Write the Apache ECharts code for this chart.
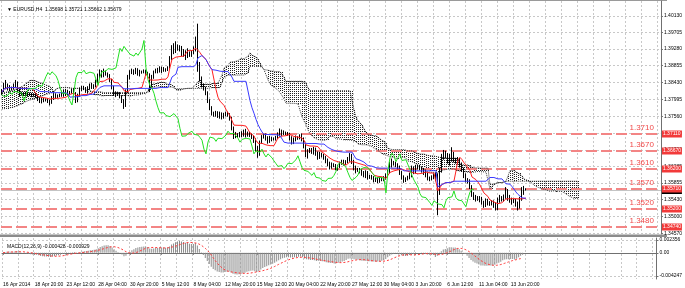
<!DOCTYPE html>
<html><head><meta charset="utf-8">
<script src="https://cdn.jsdelivr.net/npm/echarts@6/dist/echarts.min.js"></script>
<style>html,body{margin:0;padding:0;background:#fff}#c{width:685px;height:288px}</style>
</head><body><div id="c"></div>
<script>
// H4 bars [open, close, low, high], 16 Apr 2014 04:00 .. 16 Jun 2014 20:00
const ohlc = [
[1.3815,1.3822,1.3810,1.3826],[1.3822,1.3838,1.3818,1.3842],[1.3838,1.3830,1.3825,1.3849],[1.3830,1.3833,1.3822,1.3840],[1.3833,1.3825,1.3820,1.3836],
[1.3825,1.3828,1.3822,1.3832],[1.3828,1.3835,1.3824,1.3840],[1.3835,1.3842,1.3830,1.3849],[1.3842,1.3822,1.3817,1.3845],[1.3822,1.3812,1.3806,1.3826],[1.3812,1.3815,1.3809,1.3819],
[1.3815,1.3812,1.3808,1.3818],[1.3812,1.3815,1.3807,1.3819],[1.3815,1.3811,1.3806,1.3818],[1.3811,1.3813,1.3808,1.3817],[1.3813,1.3810,1.3805,1.3816],[1.3810,1.3812,1.3806,1.3815],
[1.3812,1.3808,1.3803,1.3816],[1.3808,1.3800,1.3795,1.3812],[1.3800,1.3795,1.3790,1.3805],[1.3795,1.3800,1.3789,1.3804],[1.3800,1.3797,1.3792,1.3803],[1.3797,1.3799,1.3794,1.3802],
[1.3799,1.3795,1.3790,1.3803],[1.3795,1.3790,1.3784,1.3799],[1.3790,1.3803,1.3788,1.3808],[1.3803,1.3812,1.3798,1.3820],[1.3812,1.3806,1.3800,1.3815],[1.3806,1.3808,1.3803,1.3812],
[1.3808,1.3810,1.3805,1.3814],[1.3810,1.3818,1.3806,1.3822],[1.3818,1.3812,1.3806,1.3825],[1.3812,1.3820,1.3808,1.3826],[1.3820,1.3815,1.3810,1.3824],[1.3815,1.3818,1.3812,1.3821],
[1.3818,1.3822,1.3814,1.3826],[1.3822,1.3815,1.3810,1.3828],[1.3815,1.3795,1.3790,1.3818],[1.3795,1.3810,1.3792,1.3814],[1.3810,1.3825,1.3806,1.3830],[1.3825,1.3830,1.3820,1.3834],
[1.3830,1.3827,1.3823,1.3834],[1.3827,1.3822,1.3816,1.3831],[1.3822,1.3828,1.3814,1.3833],[1.3828,1.3835,1.3824,1.3840],[1.3835,1.3830,1.3826,1.3842],[1.3830,1.3833,1.3826,1.3838],
[1.3833,1.3845,1.3830,1.3850],[1.3845,1.3858,1.3840,1.3865],[1.3858,1.3868,1.3852,1.3876],[1.3868,1.3862,1.3855,1.3874],[1.3862,1.3870,1.3856,1.3878],[1.3870,1.3865,1.3860,1.3873],
[1.3865,1.3860,1.3855,1.3868],[1.3860,1.3848,1.3844,1.3864],[1.3848,1.3830,1.3825,1.3852],[1.3830,1.3815,1.3808,1.3834],[1.3815,1.3812,1.3805,1.3820],[1.3812,1.3815,1.3808,1.3819],
[1.3815,1.3808,1.3802,1.3818],[1.3808,1.3795,1.3790,1.3810],[1.3795,1.3785,1.3775,1.3800],[1.3785,1.3820,1.3780,1.3825],[1.3820,1.3855,1.3815,1.3862],[1.3855,1.3868,1.3850,1.3874],
[1.3868,1.3872,1.3864,1.3878],[1.3872,1.3868,1.3862,1.3876],[1.3868,1.3874,1.3864,1.3880],[1.3874,1.3865,1.3860,1.3879],[1.3865,1.3870,1.3858,1.3875],[1.3870,1.3869,1.3865,1.3873],
[1.3869,1.3872,1.3866,1.3876],[1.3872,1.3866,1.3860,1.3875],[1.3866,1.3862,1.3856,1.3870],[1.3862,1.3835,1.3818,1.3866],[1.3835,1.3858,1.3830,1.3862],[1.3858,1.3870,1.3852,1.3873],
[1.3870,1.3874,1.3866,1.3878],[1.3874,1.3872,1.3866,1.3880],[1.3872,1.3878,1.3868,1.3884],[1.3878,1.3873,1.3867,1.3883],[1.3873,1.3876,1.3870,1.3882],[1.3876,1.3874,1.3870,1.3879],
[1.3874,1.3880,1.3872,1.3884],[1.3880,1.3905,1.3878,1.3910],[1.3905,1.3930,1.3900,1.3938],[1.3930,1.3922,1.3915,1.3943],[1.3922,1.3935,1.3918,1.3948],[1.3935,1.3928,1.3924,1.3940],
[1.3928,1.3932,1.3922,1.3938],[1.3932,1.3915,1.3910,1.3936],[1.3915,1.3920,1.3908,1.3928],[1.3920,1.3910,1.3900,1.3925],[1.3910,1.3918,1.3905,1.3930],[1.3918,1.3912,1.3908,1.3922],
[1.3912,1.3920,1.3908,1.3925],[1.3920,1.3928,1.3915,1.3935],[1.3928,1.3950,1.3922,1.3960],[1.3950,1.3880,1.3870,1.3993],[1.3880,1.3850,1.3845,1.3895],[1.3850,1.3835,1.3830,1.3858],
[1.3835,1.3828,1.3822,1.3840],[1.3828,1.3815,1.3810,1.3832],[1.3815,1.3795,1.3790,1.3820],[1.3795,1.3778,1.3772,1.3800],[1.3778,1.3765,1.3758,1.3782],[1.3765,1.3760,1.3755,1.3768],
[1.3760,1.3765,1.3755,1.3770],[1.3765,1.3758,1.3752,1.3769],[1.3758,1.3762,1.3750,1.3768],[1.3762,1.3755,1.3748,1.3766],[1.3755,1.3760,1.3750,1.3765],[1.3760,1.3763,1.3756,1.3768],
[1.3763,1.3760,1.3755,1.3768],[1.3760,1.3750,1.3745,1.3764],[1.3750,1.3725,1.3720,1.3755],[1.3725,1.3705,1.3698,1.3730],[1.3705,1.3710,1.3700,1.3716],[1.3710,1.3706,1.3701,1.3713],
[1.3706,1.3712,1.3702,1.3716],[1.3712,1.3708,1.3703,1.3718],[1.3708,1.3718,1.3704,1.3722],[1.3718,1.3710,1.3702,1.3724],[1.3710,1.3713,1.3704,1.3717],[1.3713,1.3708,1.3703,1.3716],
[1.3708,1.3702,1.3698,1.3712],[1.3702,1.3695,1.3688,1.3706],[1.3695,1.3672,1.3665,1.3700],[1.3672,1.3660,1.3650,1.3680],[1.3660,1.3690,1.3655,1.3694],[1.3690,1.3703,1.3686,1.3708],
[1.3703,1.3706,1.3699,1.3710],[1.3706,1.3700,1.3694,1.3712],[1.3700,1.3692,1.3686,1.3705],[1.3692,1.3700,1.3688,1.3706],[1.3700,1.3697,1.3692,1.3704],[1.3697,1.3699,1.3694,1.3702],
[1.3699,1.3702,1.3694,1.3706],[1.3702,1.3708,1.3698,1.3715],[1.3708,1.3718,1.3704,1.3725],[1.3718,1.3712,1.3706,1.3722],[1.3712,1.3715,1.3708,1.3720],[1.3715,1.3712,1.3708,1.3717],
[1.3712,1.3710,1.3706,1.3716],[1.3710,1.3700,1.3694,1.3714],[1.3700,1.3690,1.3684,1.3705],[1.3690,1.3697,1.3685,1.3702],[1.3697,1.3702,1.3692,1.3707],[1.3702,1.3700,1.3696,1.3705],
[1.3700,1.3703,1.3697,1.3710],[1.3703,1.3698,1.3692,1.3712],[1.3698,1.3680,1.3674,1.3702],[1.3680,1.3660,1.3652,1.3685],[1.3660,1.3668,1.3648,1.3672],[1.3668,1.3670,1.3662,1.3675],
[1.3670,1.3664,1.3660,1.3675],[1.3664,1.3672,1.3658,1.3678],[1.3672,1.3660,1.3655,1.3676],[1.3660,1.3652,1.3645,1.3666],[1.3652,1.3660,1.3647,1.3665],[1.3660,1.3656,1.3651,1.3663],
[1.3656,1.3650,1.3645,1.3660],[1.3650,1.3642,1.3636,1.3655],[1.3642,1.3635,1.3628,1.3648],[1.3635,1.3628,1.3620,1.3640],[1.3628,1.3633,1.3622,1.3638],[1.3633,1.3630,1.3626,1.3636],
[1.3630,1.3622,1.3618,1.3634],[1.3622,1.3628,1.3617,1.3632],[1.3628,1.3636,1.3624,1.3640],[1.3636,1.3640,1.3632,1.3645],[1.3640,1.3635,1.3630,1.3645],[1.3635,1.3640,1.3632,1.3644],
[1.3640,1.3645,1.3636,1.3652],[1.3645,1.3655,1.3640,1.3662],[1.3655,1.3640,1.3634,1.3660],[1.3640,1.3625,1.3618,1.3645],[1.3625,1.3618,1.3610,1.3630],[1.3618,1.3620,1.3614,1.3624],
[1.3620,1.3615,1.3610,1.3624],[1.3615,1.3610,1.3604,1.3620],[1.3610,1.3605,1.3600,1.3616],[1.3605,1.3612,1.3598,1.3618],[1.3612,1.3600,1.3594,1.3616],[1.3600,1.3602,1.3596,1.3606],
[1.3602,1.3598,1.3594,1.3606],[1.3598,1.3592,1.3587,1.3603],[1.3592,1.3596,1.3588,1.3601],[1.3596,1.3590,1.3585,1.3600],[1.3590,1.3597,1.3586,1.3603],[1.3597,1.3595,1.3590,1.3600],
[1.3595,1.3598,1.3590,1.3603],[1.3598,1.3605,1.3594,1.3610],[1.3605,1.3615,1.3600,1.3620],[1.3615,1.3632,1.3610,1.3640],[1.3632,1.3638,1.3625,1.3648],[1.3638,1.3636,1.3630,1.3642],
[1.3636,1.3632,1.3626,1.3640],[1.3632,1.3625,1.3620,1.3636],[1.3625,1.3612,1.3606,1.3630],[1.3612,1.3600,1.3594,1.3616],[1.3600,1.3592,1.3586,1.3605],[1.3592,1.3596,1.3588,1.3600],
[1.3596,1.3600,1.3592,1.3604],[1.3600,1.3606,1.3595,1.3612],[1.3606,1.3620,1.3600,1.3630],[1.3620,1.3615,1.3608,1.3628],[1.3615,1.3625,1.3610,1.3632],[1.3625,1.3627,1.3620,1.3632],
[1.3627,1.3624,1.3618,1.3632],[1.3624,1.3618,1.3612,1.3628],[1.3618,1.3612,1.3606,1.3624],[1.3612,1.3606,1.3600,1.3620],[1.3606,1.3598,1.3592,1.3612],[1.3598,1.3596,1.3590,1.3602],
[1.3596,1.3600,1.3592,1.3605],[1.3600,1.3605,1.3595,1.3610],[1.3605,1.3598,1.3590,1.3612],[1.3598,1.3560,1.3503,1.3610],[1.3560,1.3618,1.3555,1.3625],[1.3618,1.3650,1.3612,1.3660],
[1.3650,1.3662,1.3645,1.3670],[1.3662,1.3655,1.3648,1.3668],[1.3655,1.3640,1.3635,1.3662],[1.3640,1.3650,1.3630,1.3660],[1.3650,1.3660,1.3640,1.3677],[1.3660,1.3643,1.3638,1.3665],
[1.3643,1.3640,1.3635,1.3650],[1.3640,1.3645,1.3633,1.3652],[1.3645,1.3632,1.3625,1.3650],[1.3632,1.3620,1.3614,1.3638],[1.3620,1.3605,1.3598,1.3625],[1.3605,1.3593,1.3587,1.3610],
[1.3593,1.3590,1.3584,1.3598],[1.3590,1.3575,1.3570,1.3595],[1.3575,1.3558,1.3550,1.3580],[1.3558,1.3550,1.3542,1.3562],[1.3550,1.3545,1.3538,1.3555],[1.3545,1.3548,1.3540,1.3552],
[1.3548,1.3543,1.3536,1.3552],[1.3543,1.3535,1.3530,1.3550],[1.3535,1.3528,1.3522,1.3540],[1.3528,1.3540,1.3524,1.3546],[1.3540,1.3535,1.3528,1.3545],[1.3535,1.3532,1.3527,1.3539],
[1.3532,1.3536,1.3528,1.3542],[1.3536,1.3530,1.3522,1.3541],[1.3530,1.3522,1.3515,1.3536],[1.3522,1.3540,1.3516,1.3548],[1.3540,1.3548,1.3535,1.3555],[1.3548,1.3543,1.3538,1.3552],
[1.3543,1.3550,1.3538,1.3556],[1.3550,1.3565,1.3545,1.3575],[1.3565,1.3548,1.3540,1.3570],[1.3548,1.3542,1.3535,1.3555],[1.3542,1.3538,1.3530,1.3548],[1.3538,1.3540,1.3534,1.3545],
[1.3540,1.3532,1.3525,1.3545],[1.3532,1.3525,1.3515,1.3538],[1.3525,1.3545,1.3520,1.3550],[1.3545,1.3562,1.3540,1.3575],[1.3562,1.3570,1.3555,1.3578],[1.35698,1.35679,1.35662,1.35721]
];
// cloud edges for the first 26 visible bars (projected from history before the window)
const preSpanA = [1.3816,1.3816,1.3818,1.3818,1.3820,1.3822,1.3824,1.3826,1.3828,1.3830,1.3832,1.3836,1.3840,1.3845,1.3848,1.3848,1.3848,1.3846,1.3844,1.3842,1.3840,1.3838,1.3836,1.3834,1.3832,1.3830];
const preSpanB = [1.3775,1.3775,1.3776,1.3776,1.3778,1.3778,1.3780,1.3782,1.3784,1.3786,1.3788,1.3790,1.3794,1.3797,1.3798,1.3800,1.3800,1.3802,1.3804,1.3806,1.3808,1.3810,1.3812,1.3814,1.3815,1.3816];
const totalSlots = 330;
const xTickLabels = ['16 Apr 2014','18 Apr 20:00','23 Apr 12:00','28 Apr 04:00','30 Apr 20:00','5 May 12:00','8 May 04:00','12 May 20:00','15 May 12:00','20 May 04:00','22 May 20:00','27 May 12:00','30 May 04:00','3 Jun 20:00','6 Jun 12:00','11 Jun 04:00','13 Jun 20:00'];
const yTickValues = [1.40130,1.39705,1.39280,1.38855,1.38430,1.37995,1.37560,1.37130,1.36700,1.36285,1.35855,1.35430,1.35000,1.34570];
const levelValues = [1.3711,1.3667,1.3620,1.3571,1.3520,1.3474];
const levelTexts = ['1.3710','1.3670','1.3610','1.3570','1.3520','1.3480'];
const levelTags = ['1.37110','1.36670','1.36200','1.35710','1.35200','1.34740'];
const bidPrice = 1.35679;
const bidTag = '1.35679';
const macdTickValues = [0.002356, 0, -0.004247];
const titleText = '\u25BC EURUSD,H4  1.35698 1.35721 1.35662 1.35679';
const macdText = 'MACD(12,26,9) -0.000428 -0.000929';

// ---- indicator lines derived from the bars (Ichimoku 9/26/52, MACD 12/26/9) ----
const N = ohlc.length;
const C = ohlc.map(r => r[1]), L = ohlc.map(r => r[2]), H = ohlc.map(r => r[3]);
function mid(i, n) { let hi = -Infinity, lo = Infinity; for (let k = Math.max(0, i - n + 1); k <= i; k++) { hi = Math.max(hi, H[k]); lo = Math.min(lo, L[k]); } return (hi + lo) / 2; }
const tenkan = [], kijun = [], chikou = new Array(N).fill(null);
const spanA = new Array(N + 26).fill(null), spanB = new Array(N + 26).fill(null);
for (let j = 0; j < 26; j++) { spanA[j] = preSpanA[j]; spanB[j] = preSpanB[j]; }
for (let i = 0; i < N; i++) {
  tenkan[i] = mid(i, 9); kijun[i] = mid(i, 26);
  spanA[i + 26] = (tenkan[i] + kijun[i]) / 2; spanB[i + 26] = mid(i, 52);
  if (i >= 26) chikou[i - 26] = C[i];
}
const cloud = [];
for (let j = 0; j < spanA.length; j++) if (spanA[j] != null) cloud.push([j, spanA[j], spanB[j]]);
const macd = [], signal = [];
let e12 = C[0], e26 = C[0];
for (let i = 0; i < N; i++) {
  e12 += (C[i] - e12) * 2 / 13; e26 += (C[i] - e26) * 2 / 27;
  macd[i] = e12 - e26;
  let s = 0, c = 0; for (let k = Math.max(0, i - 8); k <= i; k++) { s += macd[k]; c++; }
  signal[i] = s / c;
}
const cats = []; for (let i = 0; i < totalSlots; i++) cats.push(String(i));

const FONT = 'Liberation Sans';
const grid = '#c8c8c8';

function levelRender(params, api) {
  const k = api.value(2);
  const y = Math.round(api.coord([0, api.value(1)])[1]);
  const cs = params.coordSys;
  const right = cs.x + cs.width;
  return { type: 'group', children: [
    { type: 'line', shape: { x1: cs.x, y1: y, x2: right, y2: y }, style: { stroke: '#f38585', lineWidth: 2, lineDash: [11, 4] } },
    { type: 'text', x: right - 7, y: y - 2, style: { text: levelTexts[k], fill: '#f04a4a', font: '8px "Liberation Sans"', align: 'right', verticalAlign: 'bottom' } }
  ] };
}
function tagRender(params, api) {
  const k = api.value(2);
  const y = Math.round(api.coord([0, api.value(1)])[1]);
  const cs = params.coordSys;
  const right = cs.x + cs.width;
  return { type: 'group', children: [
    { type: 'rect', shape: { x: right + 1, y: y - 3.5, width: 20, height: 7 }, style: { fill: '#f23a3a' } },
    { type: 'text', x: right + 2, y: y, style: { text: levelTags[k], fill: '#fff', font: '5px "Liberation Sans"', align: 'left', verticalAlign: 'middle' } }
  ] };
}
function bidRender(params, api) {
  const y = Math.round(api.coord([0, api.value(1)])[1]) + 0.5;
  const cs = params.coordSys;
  const right = cs.x + cs.width;
  return { type: 'group', children: [
    { type: 'line', shape: { x1: cs.x, y1: y, x2: right, y2: y }, style: { stroke: '#c4c4c4', lineWidth: 1 } },
    { type: 'rect', shape: { x: right + 1, y: y - 3.5, width: 20, height: 7 }, style: { fill: '#000' } },
    { type: 'text', x: right + 2, y: y, style: { text: bidTag, fill: '#fff', font: '5px "Liberation Sans"', align: 'left', verticalAlign: 'middle' } }
  ] };
}

const chart = echarts.init(document.getElementById('c'), null, { renderer: 'canvas' });
chart.setOption({
  animation: false,
  backgroundColor: '#fff',
  title: [
    { text: titleText, left: 2, top: 2, textStyle: { fontSize: 5, fontWeight: 'normal', color: '#000', fontFamily: FONT } },
    { text: macdText, left: 2, top: 239, textStyle: { fontSize: 5, fontWeight: 'normal', color: '#000', fontFamily: FONT } }
  ],
  grid: [
    { left: 1, top: 1, width: 666, height: 233 },
    { left: 1, top: 238, width: 666, height: 41 }
  ],
  xAxis: [
    { gridIndex: 0, type: 'category', data: cats, boundaryGap: true, axisLine: { show: false }, axisTick: { show: false }, axisLabel: { show: false },
      splitLine: { show: true, interval: 7, lineStyle: { color: grid, type: [2, 2] } } },
    { gridIndex: 1, type: 'category', data: cats, boundaryGap: true,
      axisLine: { show: true, lineStyle: { color: '#707070', width: 1 } },
      axisTick: { show: true, alignWithLabel: true, length: 2, interval: (i) => i % 16 === 0 && i / 16 < xTickLabels.length, lineStyle: { color: '#707070' } },
      axisLabel: { show: true, interval: (i) => i % 16 === 0 && i / 16 < xTickLabels.length, formatter: (v, i) => xTickLabels[i / 16] || '',
        align: 'left', fontSize: 5, color: '#000', fontFamily: FONT, margin: 3 },
      splitLine: { show: true, interval: 7, lineStyle: { color: grid, type: [2, 2] } } }
  ],
  yAxis: [
    { gridIndex: 0, type: 'value', position: 'right', min: 1.3455, max: 1.4051,
      axisLine: { show: true, lineStyle: { color: '#707070' } },
      axisTick: { show: true, length: 2, customValues: yTickValues, lineStyle: { color: '#707070' } },
      axisLabel: { show: true, customValues: yTickValues, formatter: v => v.toFixed(5), fontSize: 5, color: '#000', fontFamily: FONT, margin: 3 },
      splitLine: { show: true, lineStyle: { color: grid, type: [2, 2] } } },
    { gridIndex: 1, type: 'value', position: 'right', min: -0.0048, max: 0.0027,
      axisLine: { show: true, lineStyle: { color: '#707070' } },
      axisTick: { show: true, length: 2, customValues: macdTickValues, lineStyle: { color: '#707070' } },
      axisLabel: { show: true, customValues: macdTickValues, formatter: v => (v === 0 ? '0.00' : v.toFixed(6)), fontSize: 5, color: '#000', fontFamily: FONT, margin: 3 },
      splitLine: { show: true, lineStyle: { color: grid, type: [2, 2] } } }
  ],
  graphic: [
    { type: 'rect', shape: { x: 0, y: 0, width: 667, height: 1 }, style: { fill: '#9a9a9a' }, silent: true },
    { type: 'rect', shape: { x: 0, y: 234.5, width: 667, height: 2.5 }, style: { fill: '#8c8c8c' }, silent: true }
  ],
  series: [
    { type: 'custom', xAxisIndex: 0, yAxisIndex: 0, data: cloud, silent: true, z: 1,
      encode: { x: 0, y: [1, 2] },
      renderItem: (params, api) => {
        const p1 = api.coord([api.value(0), api.value(1)]);
        const p2 = api.coord([api.value(0), api.value(2)]);
        const x = Math.round(p1[0]) + 0.5;
        const ya = Math.round(Math.min(p1[1], p2[1])), yb = Math.round(Math.max(p1[1], p2[1]));
        return { type: 'line', shape: { x1: x, y1: ya, x2: x, y2: yb }, style: { stroke: '#222', lineWidth: 1, lineDash: [1, 1] } };
      } },
    { type: 'line', xAxisIndex: 0, yAxisIndex: 0, data: spanA, showSymbol: false, silent: true, z: 2, lineStyle: { color: '#333', width: 1, type: [1, 1] } },
    { type: 'line', xAxisIndex: 0, yAxisIndex: 0, data: spanB, showSymbol: false, silent: true, z: 2, lineStyle: { color: '#333', width: 1, type: [1, 1] } },
    { type: 'custom', xAxisIndex: 0, yAxisIndex: 0, silent: true, z: 2, clip: false,
      data: levelValues.map((v, k) => [0, v, k]), encode: { x: 0, y: 1 }, renderItem: levelRender },
    { type: 'custom', xAxisIndex: 0, yAxisIndex: 0, silent: true, z: 2, clip: false,
      data: [[0, bidPrice, 0]], encode: { x: 0, y: 1 }, renderItem: bidRender },
    { type: 'custom', xAxisIndex: 0, yAxisIndex: 0, silent: true, z: 8, clip: false,
      data: levelValues.map((v, k) => [0, v, k]), encode: { x: 0, y: 1 }, renderItem: tagRender },
    { type: 'candlestick', xAxisIndex: 0, yAxisIndex: 0, data: ohlc, barWidth: 1, z: 3,
      itemStyle: { color: '#ffffff', color0: '#000000', borderColor: '#000000', borderColor0: '#000000', borderWidth: 1 } },
    { type: 'line', xAxisIndex: 0, yAxisIndex: 0, data: tenkan, showSymbol: false, silent: true, z: 4, lineStyle: { color: '#ff2020', width: 1 } },
    { type: 'line', xAxisIndex: 0, yAxisIndex: 0, data: kijun, showSymbol: false, silent: true, z: 4, lineStyle: { color: '#3a3aff', width: 1 } },
    { type: 'line', xAxisIndex: 0, yAxisIndex: 0, data: chikou, showSymbol: false, silent: true, z: 4, lineStyle: { color: '#22e022', width: 1 } },
    { type: 'bar', xAxisIndex: 1, yAxisIndex: 1, data: macd, barWidth: 1, silent: true, itemStyle: { color: '#8a8a8a' } },
    { type: 'line', xAxisIndex: 1, yAxisIndex: 1, data: signal, showSymbol: false, silent: true, lineStyle: { color: '#ff3a3a', width: 1, type: [2, 2] } }
  ]
});
</script></body></html>
